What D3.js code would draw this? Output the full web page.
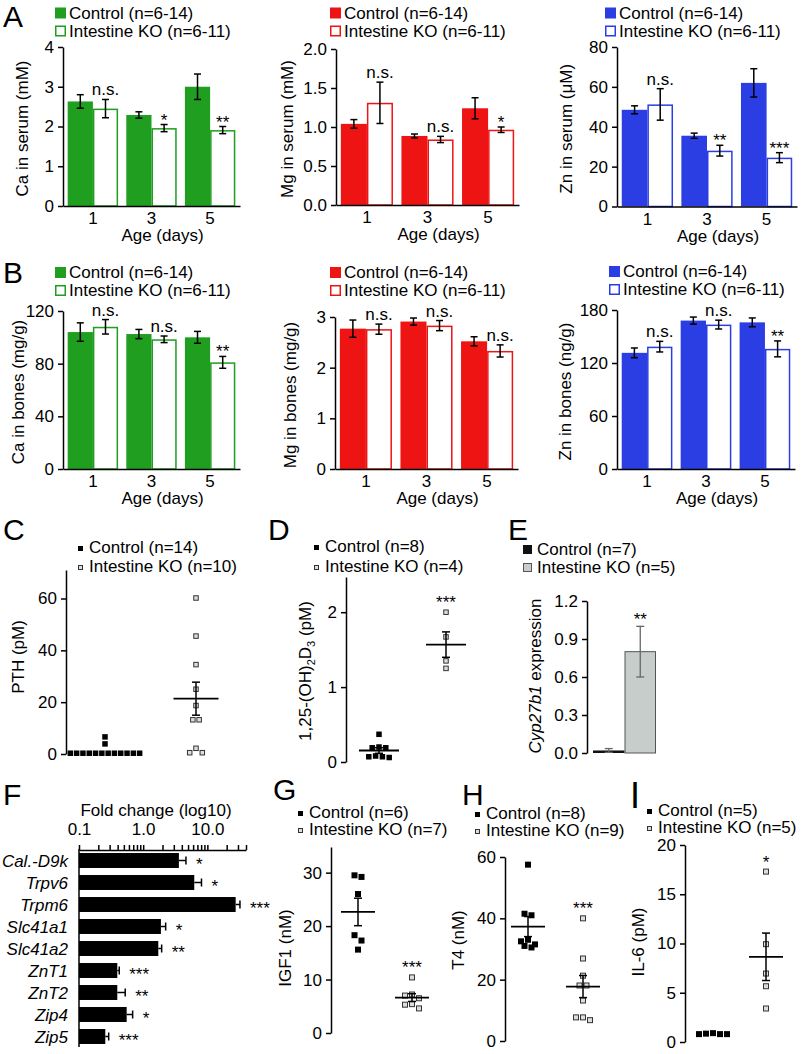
<!DOCTYPE html>
<html><head><meta charset="utf-8">
<script src="https://cdn.jsdelivr.net/npm/d3@7"></script>
<style>body{margin:0;background:#fff} svg{display:block}</style>
</head><body><svg id="c" width="802" height="1054"></svg>
<script>
const FONT = '"Liberation Sans", Arial, Helvetica, sans-serif';
// ---------- DATA ----------
const ages = ["1","3","5"];
const groups = ["Control","Intestine KO"];
// Panel A (serum)
const caSerumCtl = [2.63, 2.29, 3.00], caSerumCtlErr = [0.17, 0.08, 0.32];
const caSerumKO  = [2.45, 1.96, 1.91], caSerumKOErr  = [0.23, 0.09, 0.09];
const caSerumSig = ["n.s.", "*", "**"];
const mgSerumCtl = [1.04, 0.885, 1.24], mgSerumCtlErr = [0.055, 0.025, 0.135];
const mgSerumKO  = [1.31, 0.84, 0.965], mgSerumKOErr  = [0.265, 0.04, 0.035];
const mgSerumSig = ["n.s.", "n.s.", "*"];
const znSerumCtl = [48.5, 35.5, 62.0], znSerumCtlErr = [2.0, 1.3, 7.1];
const znSerumKO  = [51.2, 28.0, 24.5], znSerumKOErr  = [7.9, 2.7, 2.5];
const znSerumSig = ["n.s.", "**", "***"];
// Panel B (bones)
const caBoneCtl = [104, 102.5, 100], caBoneCtlErr = [7, 3.5, 4.5];
const caBoneKO  = [108, 98.5, 81],   caBoneKOErr  = [5.5, 2.5, 4.5];
const caBoneSig = ["n.s.", "n.s.", "**"];
const mgBoneCtl = [2.77, 2.91, 2.52], mgBoneCtlErr = [0.17, 0.07, 0.09];
const mgBoneKO  = [2.76, 2.83, 2.33], mgBoneKOErr  = [0.10, 0.10, 0.12];
const mgBoneSig = ["n.s.", "n.s.", "n.s."];
const znBoneCtl = [131.5, 168, 166], znBoneCtlErr = [5.5, 4, 5];
const znBoneKO  = [138.5, 163.5, 136], znBoneKOErr = [6, 5, 9];
const znBoneSig = ["n.s.", "n.s.", "**"];
// Panel C PTH (pM)
const pthCtl = [0.3,0.3,0.3,0.3,0.3,0.3,0.3,0.3,0.3,0.3,0.3,0.3,3.9,6.6];
const pthKO  = [60.2,45.5,34.5,25.0,18.7,13.2,13.2,2.2,0.5,0.5];
// Panel D 1,25-(OH)2D3 (pM)
const vitDCtl = [0.37,0.19,0.19,0.20,0.07,0.07,0.08,0.06];
const vitDKO  = [2.0,1.67,1.35,1.25];
// Panel E Cyp27b1 expression
const cypMean = [0.02, 0.80], cypErr = [0.015, 0.20];
// Panel F fold change
const genes = ["Cal.-D9k","Trpv6","Trpm6","Slc41a1","Slc41a2","ZnT1","ZnT2","Zip4","Zip5"];
const fold    = [3.6, 6.25, 27.6, 1.89, 1.72, 0.395, 0.395, 0.553, 0.257];
const foldErr = [1.04, 1.85, 4.6, 0.35, 0.22, 0.029, 0.13, 0.132, 0.033];
const foldSig = ["*","*","***","*","**","***","**","*","***"];
const foldMajor = [0.1, 1, 10], foldMajorLabels = ["0.1","1.0","10.0"];
// Panel G IGF1 (nM)
const igfCtl = [29.5,29.2,26.0,18.3,17.3,15.6];
const igfKO  = [10.4,7.2,7.0,6.5,5.4,5.3,4.6];
// Panel H T4 (nM)
const t4Ctl = [57.5,41.5,41.0,33.0,32.5,31.5,30.5,31.0];
const t4KO  = [40,26.9,21.3,18.1,18.1,13.2,7.7,6.8,7.7];
// Panel I IL-6 (pM)
const il6Ctl = [0.9,0.8,0.8,0.8,0.85];
const il6KO  = [17.3,9.93,6.95,5.66,3.4];

// ---------- DRAWING ----------
const svg = d3.select("#c");
const GREEN = "#1f9e1f", RED = "#ee1414", BLUE = "#2a3ee4";

function styleAxis(g){
  g.attr("font-family", FONT).attr("font-size", 17);
  g.select(".domain").attr("stroke","#000").attr("stroke-width",1.5);
  g.selectAll(".tick line").attr("stroke","#000").attr("stroke-width",1.5);
  g.selectAll(".tick text").attr("fill","#000");
  return g;
}
function txt(x, y, s, opt={}){
  const t = svg.append("text").attr("x",x).attr("y",y).text(s)
    .attr("font-family",FONT).attr("font-size",opt.size||17).attr("fill",opt.fill||"#000");
  if(opt.anchor) t.attr("text-anchor",opt.anchor);
  if(opt.style) t.attr("font-style",opt.style);
  return t;
}
function ylabel(x, y, s){
  return svg.append("text").attr("transform",`translate(${x},${y}) rotate(-90)`)
    .attr("dy","0.35em").attr("text-anchor","middle").attr("font-family",FONT)
    .attr("font-size",17).text(s);
}
function letter(x, y, s, size=30){ txt(x, y, s, {size}); }

function legendBars(x, y, color){
  svg.append("rect").attr("x",x).attr("y",y-11).attr("width",11).attr("height",11).attr("fill",color);
  txt(x+14, y, "Control (n=6-14)");
  svg.append("rect").attr("x",x+0.75).attr("y",y+18-11+0.75).attr("width",9.5).attr("height",9.5)
    .attr("fill","#fff").attr("stroke",color).attr("stroke-width",1.5);
  txt(x+14, y+18, "Intestine KO (n=6-11)");
}

function errBar(g, cx, lo, hi, cap, color="#000", w=1.5){
  g.append("line").attr("x1",cx).attr("x2",cx).attr("y1",lo).attr("y2",hi).attr("stroke",color).attr("stroke-width",w);
  [lo,hi].forEach(yy=>g.append("line").attr("x1",cx-cap/2).attr("x2",cx+cap/2).attr("y1",yy).attr("y2",yy).attr("stroke",color).attr("stroke-width",w));
}

function barPanel(c){
  const xb = d3.scaleBand().domain(ages).range([c.x0, c.x1]).paddingInner(0.14).paddingOuter(0.08);
  const xs = d3.scaleBand().domain(groups).range([0, xb.bandwidth()]);
  const y = d3.scaleLinear().domain(c.domain).range([c.yBot, c.yTop]);
  const g = svg.append("g");
  ages.forEach((a,i)=>{
    const xc = xb(a)+xs("Control"), xk = xb(a)+xs("Intestine KO"), w = xs.bandwidth();
    g.append("rect").attr("x",xc).attr("y",y(c.ctl[i])).attr("width",w).attr("height",y(0)-y(c.ctl[i])).attr("fill",c.color);
    g.append("rect").attr("x",xk+0.75).attr("y",y(c.ko[i])+0.75).attr("width",w-1.5).attr("height",y(0)-y(c.ko[i])-0.75)
      .attr("fill","#fff").attr("stroke",c.color).attr("stroke-width",1.5);
    errBar(g, xc+w/2, y(c.ctl[i]-c.ctlErr[i]), y(c.ctl[i]+c.ctlErr[i]), 7);
    errBar(g, xk+w/2, y(c.ko[i]-c.koErr[i]), y(c.ko[i]+c.koErr[i]), 7);
    const top = y(c.ko[i]+c.koErr[i]);
    const s = c.sig[i];
    txt(xk+w/2, s==="n.s." ? top-4 : top+1, s, {anchor:"middle"});
  });
  styleAxis(svg.append("g").attr("transform",`translate(${c.x0},0)`)
    .call(d3.axisLeft(y).tickValues(c.ticks).tickFormat(c.fmt).tickSizeInner(5).tickSizeOuter(0).tickPadding(4)));
  styleAxis(svg.append("g").attr("transform",`translate(0,${c.yBot})`)
    .call(d3.axisBottom(xb).tickSize(0).tickPadding(6)));
  txt((c.x0+c.x1)/2+11, c.yBot+35, "Age (days)", {anchor:"middle"});
  ylabel(c.ylx, (c.yTop+c.yBot)/2+2, c.ylabel);
  legendBars(c.lx, c.ly, c.color);
}

const f0 = d3.format("d"), f1 = d3.format(".1f");
// Row A
barPanel({x0:63,x1:240,yTop:47,yBot:206,domain:[0,4],ticks:[0,1,2,3,4],fmt:f0,color:GREEN,
  ctl:caSerumCtl,ctlErr:caSerumCtlErr,ko:caSerumKO,koErr:caSerumKOErr,sig:caSerumSig,
  ylabel:"Ca in serum (mM)",ylx:22,lx:55,ly:18.5});
barPanel({x0:336,x1:519,yTop:49,yBot:205,domain:[0,2],ticks:[0,0.5,1,1.5,2],fmt:f1,color:RED,
  ctl:mgSerumCtl,ctlErr:mgSerumCtlErr,ko:mgSerumKO,koErr:mgSerumKOErr,sig:mgSerumSig,
  ylabel:"Mg in serum (mM)",ylx:287,lx:330,ly:18.5});
barPanel({x0:617,x1:797,yTop:47,yBot:206.5,domain:[0,80],ticks:[0,20,40,60,80],fmt:f0,color:BLUE,
  ctl:znSerumCtl,ctlErr:znSerumCtlErr,ko:znSerumKO,koErr:znSerumKOErr,sig:znSerumSig,
  ylabel:"Zn in serum (\u03bcM)",ylx:566,lx:605,ly:18.5});
// Row B
barPanel({x0:63,x1:240,yTop:311,yBot:469,domain:[0,120],ticks:[0,40,80,120],fmt:f0,color:GREEN,
  ctl:caBoneCtl,ctlErr:caBoneCtlErr,ko:caBoneKO,koErr:caBoneKOErr,sig:caBoneSig,
  ylabel:"Ca in bones (mg/g)",ylx:18,lx:55,ly:278});
barPanel({x0:335,x1:518,yTop:317,yBot:469,domain:[0,3],ticks:[0,1,2,3],fmt:f0,color:RED,
  ctl:mgBoneCtl,ctlErr:mgBoneCtlErr,ko:mgBoneKO,koErr:mgBoneKOErr,sig:mgBoneSig,
  ylabel:"Mg in bones (mg/g)",ylx:290,lx:330,ly:278});
barPanel({x0:617,x1:795,yTop:310,yBot:469,domain:[0,180],ticks:[0,60,120,180],fmt:f0,color:BLUE,
  ctl:znBoneCtl,ctlErr:znBoneCtlErr,ko:znBoneKO,koErr:znBoneKOErr,sig:znBoneSig,
  ylabel:"Zn in bones (ng/g)",ylx:565,lx:609,ly:277});
letter(3,27,"A"); letter(3,283,"B");

// ---------- dot plots ----------
function centerOut(n){
  return d3.range(n).map(k=>k-(n-1)/2).sort((a,b)=>Math.abs(a)-Math.abs(b)||a-b);
}
function swarm(vals, y, cx, step, sz){
  const idx = d3.range(vals.length).sort((a,b)=>vals[b]-vals[a]);
  const rows = [];
  idx.forEach(i=>{
    const py = y(vals[i]); const r = rows[rows.length-1];
    if(r && Math.abs(r.py-py) < sz) r.items.push(i); else rows.push({py, items:[i]});
  });
  const out = [];
  rows.forEach(r=>{ const sl = centerOut(r.items.length);
    r.items.forEach((i,k)=>out.push({x:cx+sl[k]*step, y:y(vals[i])})); });
  return out;
}
function legendDots(x, y, ctlTxt, koTxt, gap=19, sz=5){
  svg.append("rect").attr("x",x).attr("y",y-4.5-sz/2).attr("width",sz).attr("height",sz).attr("fill","#000");
  txt(x+11, y, ctlTxt);
  svg.append("rect").attr("x",x+0.5).attr("y",y+gap-4.5-sz/2+0.5).attr("width",sz-1).attr("height",sz-1)
    .attr("fill","#ddd").attr("stroke","#333").attr("stroke-width",1);
  txt(x+11, y+gap, koTxt);
}
function dotPanel(c){
  const y = d3.scaleLinear().domain(c.domain).range([c.yBot, c.yTop]);
  const xp = d3.scalePoint().domain(groups).range(c.cx);
  const g = svg.append("g");
  styleAxis(svg.append("g").attr("transform",`translate(${c.x0},0)`)
    .call(d3.axisLeft(y).tickValues(c.ticks).tickFormat(f0).tickSizeInner(5).tickSizeOuter(0).tickPadding(4)));
  const sz = c.sz;
  [[c.ctl,"Control"],[c.ko,"Intestine KO"]].forEach(([vals,grp])=>{
    const pts = swarm(vals, y, xp(grp), c.step, sz);
    const isKO = grp!=="Control";
    pts.forEach(p=>{
      if(isKO) g.append("rect").attr("x",p.x-sz/2+0.5).attr("y",p.y-sz/2+0.5).attr("width",sz-1).attr("height",sz-1)
        .attr("fill","#ddd").attr("stroke","#333").attr("stroke-width",1);
      else g.append("rect").attr("x",p.x-sz/2).attr("y",p.y-sz/2).attr("width",sz).attr("height",sz).attr("fill","#000");
    });
    if(isKO || c.ctlMean){
      const m = d3.mean(vals), se = d3.deviation(vals)/Math.sqrt(vals.length);
      const cx = xp(grp);
      g.append("line").attr("x1",cx-c.mw/2).attr("x2",cx+c.mw/2).attr("y1",y(m)).attr("y2",y(m)).attr("stroke","#000").attr("stroke-width",1.8);
      errBar(g, cx, y(m-se), y(m+se), 8, "#000", 1.5);
    }
    if(isKO && c.sig){
      const top = Math.min(d3.min(pts,p=>p.y)-sz/2, y(d3.mean(vals)+d3.deviation(vals)/Math.sqrt(vals.length)));
      txt(xp(grp), top-1, c.sig, {anchor:"middle"});
    }
  });
}
// C
dotPanel({x0:66,yTop:570,yBot:754,domain:[0,71],ticks:[0,20,40,60],cx:[105,196],step:6.3,sz:5.5,mw:45,
  ctl:pthCtl,ko:pthKO,sig:"",ctlMean:false});
ylabel(18,657,"PTH (pM)");
legendDots(78,553,"Control (n=14)","Intestine KO (n=10)");
letter(3,540,"C");
// D
dotPanel({x0:346,yTop:577,yBot:762,domain:[0,2.47],ticks:[0,1,2],cx:[379,446],step:6.8,sz:5.5,mw:40,
  ctl:vitDCtl,ko:vitDKO,sig:"***",ctlMean:true});
{
  const t = svg.append("text").attr("transform","translate(305,671) rotate(-90)").attr("dy","0.35em")
    .attr("text-anchor","middle").attr("font-family",FONT).attr("font-size",17);
  t.append("tspan").text("1,25-(OH)");
  t.append("tspan").text("2").attr("font-size",11).attr("dy",4);
  t.append("tspan").text("D").attr("dy",-4);
  t.append("tspan").text("3").attr("font-size",11).attr("dy",4);
  t.append("tspan").text(" (pM)").attr("dy",-4);
}
legendDots(314,552,"Control (n=8)","Intestine KO (n=4)",20);
letter(268,540,"D");
// E
{
  const y = d3.scaleLinear().domain([0,1.2]).range([753,601]);
  const xb = d3.scaleBand().domain(groups).range([593,656]).padding(0);
  const g = svg.append("g");
  const fills = ["#111","#c6cdca"];
  groups.forEach((grp,i)=>{
    g.append("rect").attr("x",xb(grp)+(i?0.5:0)).attr("y",y(cypMean[i])).attr("width",xb.bandwidth()-(i?1:0))
      .attr("height",y(0)-y(cypMean[i])).attr("fill",fills[i]).attr("stroke",i?"#555":"none").attr("stroke-width",1);
    errBar(g, xb(grp)+xb.bandwidth()/2, y(cypMean[i]-cypErr[i]), y(cypMean[i]+cypErr[i]), 8, "#666", 1.3);
  });
  txt(xb("Intestine KO")+xb.bandwidth()/2, y(cypMean[1]+cypErr[1])-1, "**", {anchor:"middle"});
  styleAxis(svg.append("g").attr("transform","translate(587,0)")
    .call(d3.axisLeft(y).tickValues([0,0.3,0.6,0.9,1.2]).tickFormat(f1).tickSizeInner(5).tickSizeOuter(0).tickPadding(4)));
  const t = svg.append("text").attr("transform","translate(535,676) rotate(-90)").attr("dy","0.35em")
    .attr("text-anchor","middle").attr("font-family",FONT).attr("font-size",17);
  t.append("tspan").text("Cyp27b1").attr("font-style","italic");
  t.append("tspan").text(" expression");
  svg.append("rect").attr("x",523).attr("y",545).attr("width",9).attr("height",9).attr("fill","#111");
  txt(537,555,"Control (n=7)");
  svg.append("rect").attr("x",523.5).attr("y",563.5).attr("width",8).attr("height",8).attr("fill","#c6cdca").attr("stroke","#555");
  txt(537,573,"Intestine KO (n=5)");
  letter(508,540,"E");
}
// F
{
  const x = d3.scaleLog().domain([0.1,40]).range([79,246]);
  const yb = d3.scaleBand().domain(genes).range([849.5,1047.5]).paddingInner(0.32).paddingOuter(0.16);
  const g = svg.append("g");
  const minor = [];
  [0.1,1,10].forEach(d=>d3.range(1,10).forEach(k=>{ const v=d*k; if(v<=40.0001) minor.push(+v.toPrecision(3)); }));
  const ax = d3.axisTop(x).tickValues(minor).tickSizeInner(5).tickSizeOuter(0).tickPadding(10)
    .tickFormat(v=>{ const i = foldMajor.findIndex(m=>Math.abs(m-v)<1e-9); return i>=0?foldMajorLabels[i]:""; });
  styleAxis(svg.append("g").attr("transform","translate(0,850)").call(ax));
  g.append("line").attr("x1",79).attr("x2",79).attr("y1",849).attr("y2",1047).attr("stroke","#000").attr("stroke-width",1.5);
  genes.forEach((gn,i)=>{
    const yy = yb(gn), h = yb.bandwidth();
    g.append("rect").attr("x",x(0.1)).attr("y",yy).attr("width",x(fold[i])-x(0.1)).attr("height",h).attr("fill","#000");
    const xe = x(fold[i]+foldErr[i]);
    g.append("line").attr("x1",x(fold[i])).attr("x2",xe).attr("y1",yy+h/2).attr("y2",yy+h/2).attr("stroke","#000").attr("stroke-width",1.5);
    g.append("line").attr("x1",xe).attr("x2",xe).attr("y1",yy+h/2-4).attr("y2",yy+h/2+4).attr("stroke","#000").attr("stroke-width",1.5);
    txt(xe+10, yy+h/2+9.5, foldSig[i]);
    txt(68, yy+h/2+6, gn, {anchor:"end", style:"italic"});
  });
  txt(156,816,"Fold change (log10)",{anchor:"middle"});
  letter(3,805,"F");
}
// G
dotPanel({x0:331,yTop:847,yBot:1033,domain:[0,34.8],ticks:[0,10,20,30],cx:[358,412],step:7,sz:6,mw:34,
  ctl:igfCtl,ko:igfKO,sig:"***",ctlMean:true});
ylabel(285,948,"IGF1 (nM)");
legendDots(298,818,"Control (n=6)","Intestine KO (n=7)",17);
letter(273,800,"G");
// H
dotPanel({x0:505,yTop:857,yBot:1041,domain:[0,60],ticks:[0,20,40,60],cx:[528,583],step:7,sz:6,mw:34,
  ctl:t4Ctl,ko:t4KO,sig:"***",ctlMean:true});
ylabel(458,940,"T4 (nM)");
legendDots(475,819,"Control (n=8)","Intestine KO (n=9)",17);
letter(462,805,"H");
// I
dotPanel({x0:685,yTop:845,yBot:1042,domain:[0,20],ticks:[0,5,10,15,20],cx:[713,766],step:7,sz:6,mw:34,
  ctl:il6Ctl,ko:il6KO,sig:"*",ctlMean:false});
ylabel(638,942,"IL-6 (pM)");
legendDots(647,816,"Control (n=5)","Intestine KO (n=5)",17);
letter(630,808,"I",36);
</script></body></html>
